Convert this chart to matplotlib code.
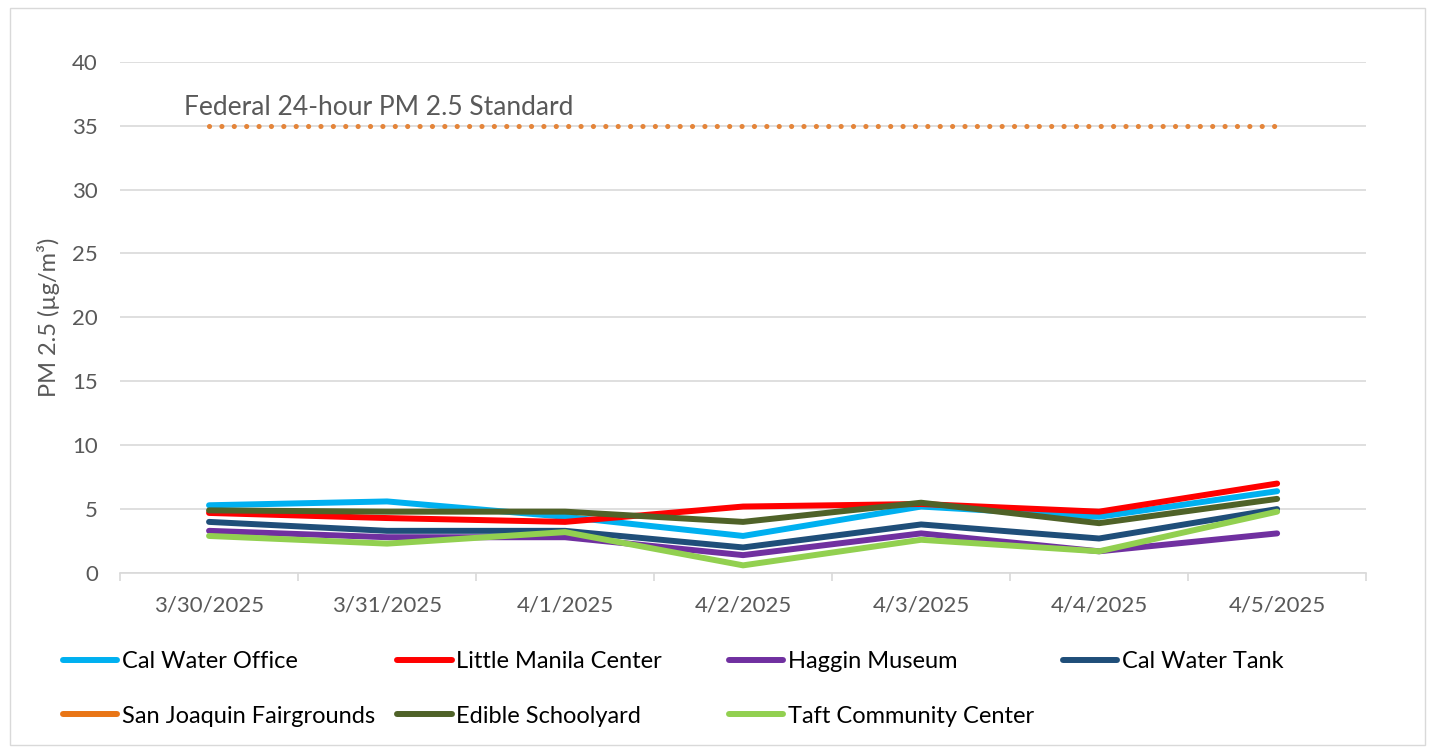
import matplotlib.pyplot as plt
import numpy as np
from matplotlib.patches import Rectangle

plt.rcParams["font.family"] = ["Lato", "DejaVu Sans"]

dates = ["3/30/2025", "3/31/2025", "4/1/2025", "4/2/2025", "4/3/2025", "4/4/2025", "4/5/2025"]

cal_water_office = [5.3, 5.6, 4.4, 2.9, 5.2, 4.4, 6.4]
little_manila_center = [4.7, 4.3, 4.0, 5.2, 5.4, 4.8, 7.0]
haggin_museum = [3.3, 2.8, 2.8, 1.4, 3.1, 1.7, 3.1]
cal_water_tank = [4.0, 3.3, 3.3, 2.0, 3.8, 2.7, 5.0]
san_joaquin_fairgrounds = [np.nan] * 7
edible_schoolyard = [4.9, 4.8, 4.8, 4.0, 5.5, 3.9, 5.8]
taft_community_center = [2.9, 2.3, 3.2, 0.6, 2.6, 1.7, 4.8]
federal_standard = [35] * 7

series = [
    ("Cal Water Office", cal_water_office, "#00B0F0"),
    ("Little Manila Center", little_manila_center, "#FF0000"),
    ("Haggin Museum", haggin_museum, "#7030A0"),
    ("Cal Water Tank", cal_water_tank, "#1F4E79"),
    ("San Joaquin Fairgrounds", san_joaquin_fairgrounds, "#E97516"),
    ("Edible Schoolyard", edible_schoolyard, "#4F6228"),
    ("Taft Community Center", taft_community_center, "#92D050"),
]

grey = "#595959"
grid = "#D9D9D9"

fig = plt.figure(figsize=(14.29, 7.52), dpi=100)
fig.patches.append(Rectangle((0.007, 0.009), 0.990, 0.981, transform=fig.transFigure,
                             fill=False, edgecolor=grid, linewidth=1))
ax = fig.add_axes([0.084, 0.238, 0.872, 0.680])

x = np.arange(len(dates))
ax.plot(x, federal_standard, color="#E4853A", linewidth=3.7,
        linestyle=(0, (0.01, 2.4)), dash_capstyle="round")
ax.text(-0.14, 36.4, "Federal 24-hour PM 2.5 Standard", color=grey, fontsize=19,
        va="center", ha="left")

handles = []
for name, values, color in series:
    line, = ax.plot(x, values, color=color, linewidth=4.3, label=name,
                    solid_capstyle="round", solid_joinstyle="round")
    handles.append(line)

ax.set_xlim(-0.5, len(dates) - 0.5)
ax.set_ylim(0, 40)
ax.set_yticks(range(0, 41, 5))
ax.yaxis.grid(True, color=grid, linewidth=1.2)
ax.set_axisbelow(True)
for side in ["left", "right", "top"]:
    ax.spines[side].set_visible(False)
ax.spines["bottom"].set_color(grid)
ax.spines["bottom"].set_linewidth(1.2)

ax.set_xticks(np.arange(-0.5, len(dates)), labels=[])
ax.set_xticks(x, labels=dates, minor=True)
ax.tick_params(axis="x", which="major", length=6, color=grid, width=1.2)
ax.tick_params(axis="x", which="minor", length=0, pad=16, labelsize=16, labelcolor=grey)
ax.tick_params(axis="y", length=0, pad=16, labelsize=16, labelcolor=grey)

ax.set_ylabel("PM 2.5 (µg/m³)", fontsize=17, color=grey)
ax.yaxis.set_label_coords(-0.048, 0.5)

# Excel-style legend: 4 equal-width columns, filled row by row
col_x = [0.044, 0.278, 0.510, 0.744]
for col in range(4):
    idx = [col, col + 4] if col + 4 < len(handles) else [col]
    fig.legend([handles[i] for i in idx], [series[i][0] for i in idx],
               loc="upper left", bbox_to_anchor=(col_x[col], 0.134),
               frameon=False, fontsize=17, handlelength=2.3, handletextpad=0.2,
               labelspacing=1.42, borderaxespad=0, borderpad=0)

fig.savefig("out.png", dpi=100)
